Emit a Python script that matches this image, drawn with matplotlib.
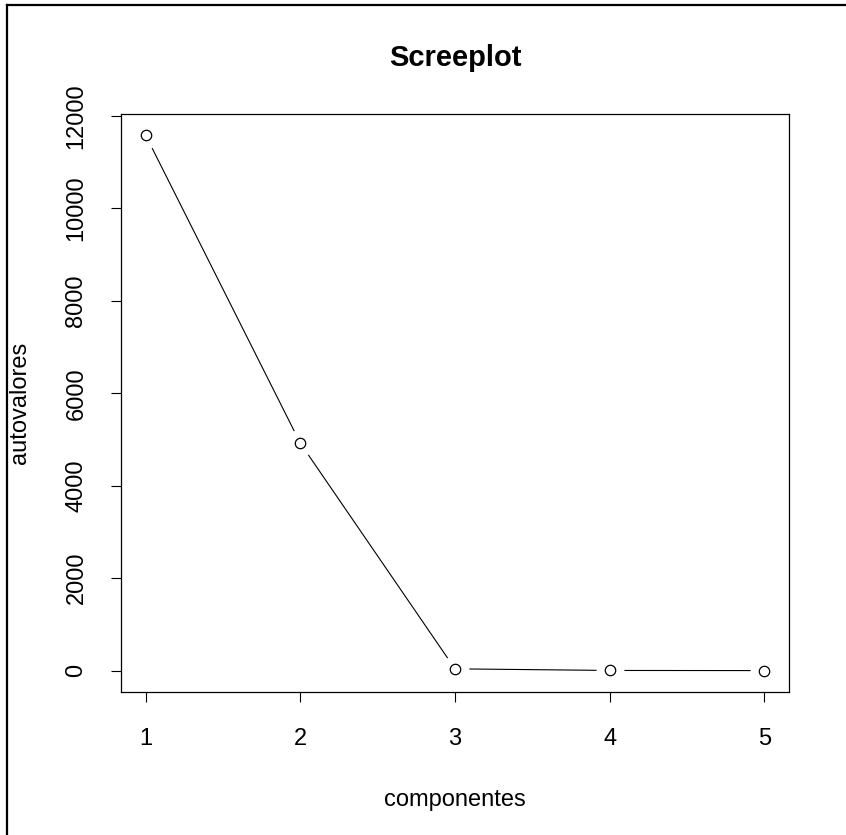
import matplotlib
matplotlib.use("Agg")
import matplotlib.pyplot as plt
from matplotlib.lines import Line2D

# datos del screeplot
componentes = [1, 2, 3, 4, 5]
autovalores = [11580, 4920, 40, 5, 2]
yticks = [0, 2000, 4000, 6000, 8000, 10000, 12000]

W, H = 846, 835
plt.rcParams['font.family'] = ['Liberation Sans', 'DejaVu Sans']

fig = plt.figure(figsize=(W / 100, H / 100), dpi=100)
ax = fig.add_axes([121 / W, (H - 692) / H, (789 - 121) / W, (692 - 114) / H])

# estilo R type="b": línea con huecos alrededor de los puntos
ax.plot(componentes, autovalores, '-', color='black', lw=0.8, zorder=2)
ax.plot(componentes, autovalores, 'o', ms=19, mfc='white', mec='white', zorder=3)
ax.plot(componentes, autovalores, 'o', ms=7.5, mfc='white', mec='black', mew=0.9, zorder=4)

# límites al estilo R (4 % extra)
r = max(autovalores) - min(autovalores)
ax.set_xlim(0.84, 5.16)
ax.set_ylim(min(autovalores) - 0.04 * r, max(autovalores) + 0.04 * r)

ax.set_xticks(componentes)
ax.set_yticks(yticks)
ax.set_yticklabels([str(v) for v in yticks], rotation=90, va='center')
ax.tick_params(axis='x', length=7.2, width=0.8, pad=19, labelsize=17)
ax.tick_params(axis='y', length=7.2, width=0.8, pad=17, labelsize=17)
for s in ax.spines.values():
    s.set_linewidth(0.9)

fig.text(455 / W, 1 - 58 / H, 'Screeplot', ha='center', va='center',
         fontsize=21, fontweight='bold')
fig.text(455 / W, 1 - 800 / H, 'componentes', ha='center', va='center', fontsize=17)
fig.text(20 / W, 1 - 403 / H, 'autovalores', ha='center', va='center',
         rotation=90, fontsize=17)

# borde de la captura (solo izquierda y arriba)
fig.add_artist(Line2D([7 / W, 7 / W], [0, 1 - 5 / H], color='black', lw=1.6,
                      transform=fig.transFigure))
fig.add_artist(Line2D([7 / W, 1], [1 - 5 / H, 1 - 5 / H], color='black', lw=1.6,
                      transform=fig.transFigure))

fig.savefig('out.png', dpi=100)
